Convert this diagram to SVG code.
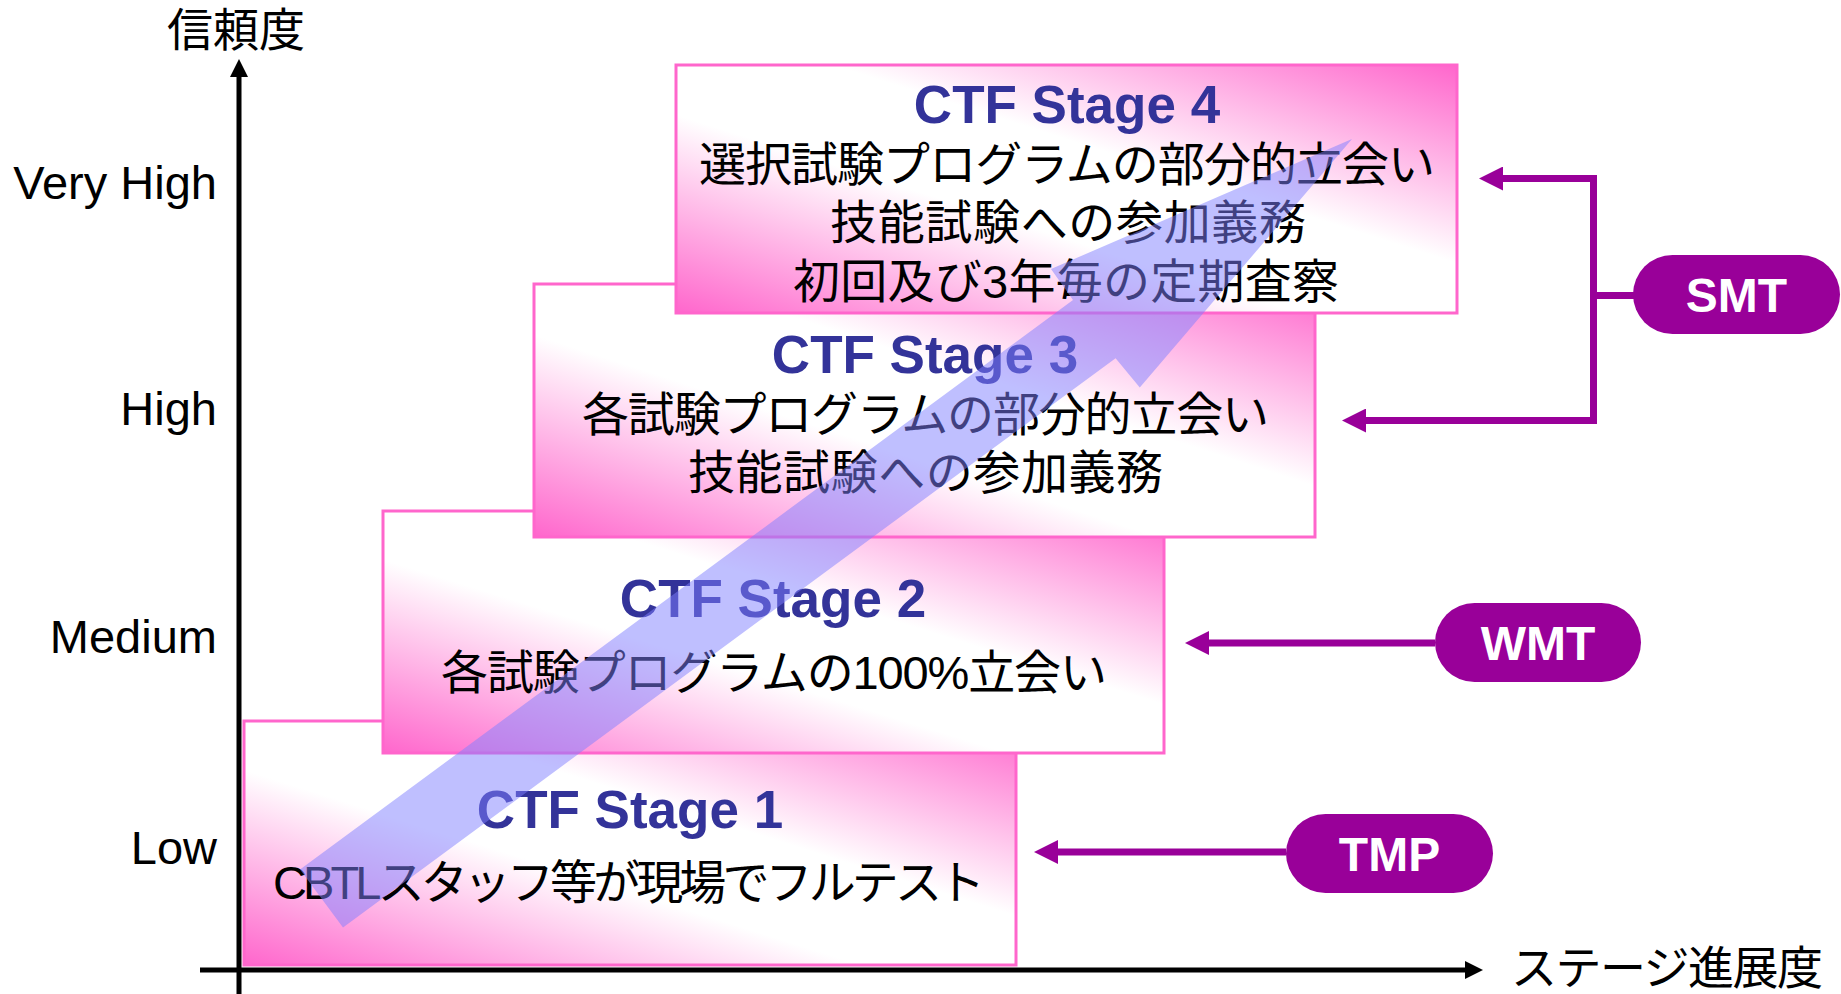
<svg xmlns="http://www.w3.org/2000/svg" width="1841" height="994" viewBox="0 0 1841 994">
<defs>
<linearGradient id="boxGrad" x1="0" y1="1" x2="1" y2="0">
<stop offset="0" stop-color="#FF66CC"/>
<stop offset="0.4" stop-color="#FFFFFF"/>
<stop offset="0.6" stop-color="#FFFFFF"/>
<stop offset="1" stop-color="#FF66CC"/>
</linearGradient>
<marker id="purpleHead" viewBox="0 0 24 24" refX="0" refY="12" markerWidth="24" markerHeight="24" markerUnits="userSpaceOnUse" orient="auto">
<path d="M0,0 L24,12 L0,24 Z" fill="#990099"/>
</marker>
<marker id="blackHead" viewBox="0 0 18 18" refX="0" refY="9" markerWidth="18" markerHeight="18" markerUnits="userSpaceOnUse" orient="auto">
<path d="M0,0 L18,9 L0,18 Z" fill="#000000"/>
</marker>
</defs>
<style>
.box { fill: url(#boxGrad); stroke: #FF66CC; stroke-width: 3; }
.title { font-family: "Liberation Sans", Arial, sans-serif; font-weight: bold; font-size: 53px; fill: #333399; text-anchor: middle; }
.body { font-family: "Liberation Sans", "Noto Sans CJK JP", sans-serif; font-size: 47px; fill: #000000; }
.axislabel { font-family: "Liberation Sans", Arial, sans-serif; font-size: 47px; fill: #000000; text-anchor: end; }
.axistitle { font-family: "Noto Sans CJK JP", sans-serif; font-size: 46px; fill: #000000; }
.pill { fill: #990099; }
.pilltext { font-family: "Liberation Sans", Arial, sans-serif; font-weight: bold; font-size: 48px; fill: #FFFFFF; text-anchor: middle; }
.conn { stroke: #990099; stroke-width: 7; fill: none; }
.axis { stroke: #000000; stroke-width: 5; fill: none; }
</style>

<g id="axes">
<line class="axis" x1="239" y1="994" x2="239" y2="77" marker-end="url(#blackHead)"/>
<line class="axis" x1="200" y1="970" x2="1465" y2="970" marker-end="url(#blackHead)"/>
<text class="axistitle" x="236" y="46" text-anchor="middle">信頼度</text>
<text class="axistitle" x="1511" y="984" textLength="312" lengthAdjust="spacing">ステージ進展度</text>
<text class="axislabel" x="217" y="199">Very High</text>
<text class="axislabel" x="217" y="425">High</text>
<text class="axislabel" x="217" y="653">Medium</text>
<text class="axislabel" x="217" y="864">Low</text>
</g>

<g id="stage1">
<rect class="box" x="244" y="721" width="772" height="244"/>
<text class="title" x="630" y="828">CTF Stage 1</text>
<text class="body" x="273" y="899" textLength="712" lengthAdjust="spacing">CBTLスタッフ等が現場でフルテスト</text>
</g>

<g id="stage2">
<rect class="box" x="383" y="511" width="781" height="242"/>
<text class="title" x="773" y="617">CTF Stage 2</text>
<text class="body" x="441" y="689" textLength="666" lengthAdjust="spacing">各試験プログラムの100%立会い</text>
</g>

<g id="stage3">
<rect class="box" x="534" y="284" width="781" height="253"/>
<text class="title" x="925" y="373">CTF Stage 3</text>
<text class="body" x="582" y="431" textLength="687" lengthAdjust="spacing">各試験プログラムの部分的立会い</text>
<text class="body" x="688" y="489" textLength="475" lengthAdjust="spacing">技能試験への参加義務</text>
</g>

<g id="stage4">
<rect class="box" x="676" y="65" width="781" height="248"/>
<text class="title" x="1067" y="123">CTF Stage 4</text>
<text class="body" x="699" y="181" textLength="736" lengthAdjust="spacing">選択試験プログラムの部分的立会い</text>
<text class="body" x="830" y="239" textLength="476" lengthAdjust="spacing">技能試験への参加義務</text>
<text class="body" x="793" y="298" textLength="546" lengthAdjust="spacing">初回及び3年毎の定期査察</text>
</g>

<g id="progress-arrow">
<polygon points="300,869.5 343,927.5 1115.6,358.2 1139.8,387.6 1352,139 1051,269 1073,300" fill="#7F7FFF" fill-opacity="0.5"/>
</g>

<g id="connectors">
<line class="conn" x1="1286" y1="852" x2="1058" y2="852" marker-end="url(#purpleHead)"/>
<line class="conn" x1="1435" y1="643" x2="1209" y2="643" marker-end="url(#purpleHead)"/>
<polyline class="conn" points="1503,178.5 1593.5,178.5 1593.5,420.5 1366,420.5"/>
<line class="conn" x1="1596" y1="178.5" x2="1503" y2="178.5" marker-end="url(#purpleHead)"/>
<line class="conn" x1="1596" y1="420.5" x2="1366" y2="420.5" marker-end="url(#purpleHead)"/>
<line class="conn" x1="1593.5" y1="295.5" x2="1634" y2="295.5"/>
</g>

<g id="tmp">
<rect class="pill" x="1286" y="814" width="207" height="79" rx="39.5" ry="39.5"/>
<text class="pilltext" x="1389.5" y="871">TMP</text>
</g>

<g id="wmt">
<rect class="pill" x="1435" y="603" width="206" height="79" rx="39.5" ry="39.5"/>
<text class="pilltext" x="1538" y="660">WMT</text>
</g>

<g id="smt">
<rect class="pill" x="1633" y="255" width="207" height="79" rx="39.5" ry="39.5"/>
<text class="pilltext" x="1736.5" y="312">SMT</text>
</g>
</svg>
